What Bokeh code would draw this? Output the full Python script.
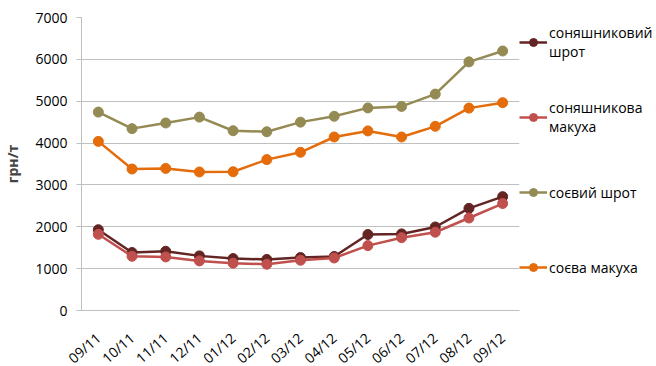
from bokeh.plotting import figure
from bokeh.models import Legend, LegendItem, ColumnDataSource
from bokeh.embed import file_html
from bokeh.resources import INLINE

months = ["09/11", "10/11", "11/11", "12/11", "01/12", "02/12", "03/12",
          "04/12", "05/12", "06/12", "07/12", "08/12", "09/12"]
sun_meal = [1930, 1385, 1415, 1305, 1240, 1220, 1265, 1290, 1815, 1830, 1995, 2440, 2720]
sun_cake = [1820, 1295, 1280, 1185, 1130, 1105, 1200, 1255, 1550, 1740, 1870, 2210, 2555]
soy_meal = [4740, 4345, 4480, 4620, 4295, 4270, 4500, 4640, 4840, 4875, 5170, 5940, 6200]
soy_cake = [4040, 3380, 3395, 3310, 3315, 3605, 3780, 4145, 4290, 4145, 4400, 4835, 4965]

series = [
    ("соняшниковий\nшрот", sun_meal, "#632523"),
    ("соняшникова\nмакуха", sun_cake, "#C0504D"),
    ("соєвий шрот", soy_meal, "#948A54"),
    ("соєва макуха", soy_cake, "#E46C0A"),
]

FONT = "Open Sans"

p = figure(x_range=months, y_range=(0, 7000), output_backend="svg",
           toolbar_location=None, frame_width=438, frame_height=293,
           min_border_left=73, min_border_top=17, min_border_bottom=46,
           min_border_right=4)
p.outline_line_color = None
p.background_fill_color = "white"

items = []
for label, vals, col in series:
    src = ColumnDataSource(dict(x=months, y=vals))
    r1 = p.line("x", "y", source=src, line_color=col, line_width=2.5)
    r2 = p.scatter("x", "y", source=src, size=10, fill_color=col, line_color=col)
    items.append(LegendItem(label=label, renderers=[r1, r2]))

legend = Legend(items=items, location=(0, 23), border_line_color=None,
                label_text_font=FONT, label_text_font_size="14px",
                label_text_line_height=1.43, label_text_baseline="alphabetic",
                label_text_color="#000000", glyph_width=28, label_standoff=2,
                spacing=35, label_height=40, padding=0, margin=0,
                background_fill_alpha=0)
p.add_layout(legend, "right")

p.xgrid.grid_line_color = None
p.ygrid.grid_line_color = "#BFBFBF"
p.ygrid.grid_line_width = 1
p.yaxis.ticker = [0, 1000, 2000, 3000, 4000, 5000, 6000, 7000]
p.yaxis.axis_line_color = "#BFBFBF"
p.yaxis.major_tick_line_color = "#BFBFBF"
p.yaxis.major_tick_out = 5
p.yaxis.major_tick_in = 0
p.yaxis.minor_tick_line_color = None
p.yaxis.major_label_standoff = 9
p.yaxis.axis_label = "грн/т"
p.yaxis.axis_label_text_font = FONT
p.yaxis.axis_label_text_font_style = "bold"
p.yaxis.axis_label_text_font_size = "14px"
p.yaxis.axis_label_standoff = 10

p.xaxis.axis_line_color = "#BFBFBF"
p.xaxis.major_tick_line_color = None
p.xaxis.minor_tick_line_color = None
p.xaxis.major_label_orientation = 0.72
p.xaxis.major_label_standoff = 19

for ax in (p.xaxis, p.yaxis):
    ax.major_label_text_font = FONT
    ax.major_label_text_font_size = "14px"
    ax.major_label_text_color = "#000000"

open("out.html", "w").write(file_html(p, INLINE))
